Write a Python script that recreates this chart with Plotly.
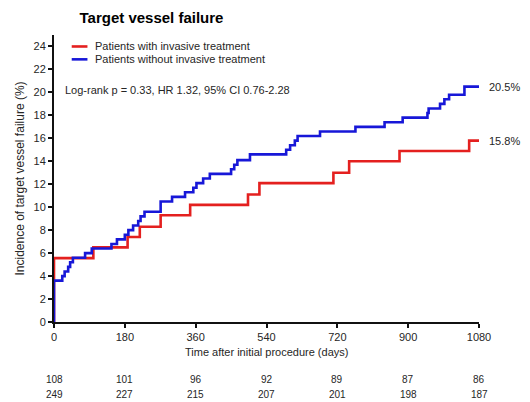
import plotly.graph_objects as go

# Kaplan-Meier style cumulative incidence (%)
red_days = [0, 0, 100, 187, 218, 271, 346, 493, 522, 710, 750, 878, 1055, 1080]
red_vals = [0, 5.56, 6.5, 7.4, 8.3, 9.3, 10.2, 11.1, 12.1, 13.0, 14.0, 14.9, 15.8, 15.8]

blue_days = [0, 0, 21, 27, 36, 41, 48, 79, 96, 146, 160, 180, 189, 201, 214, 220, 230,
             271, 300, 333, 354, 362, 379, 396, 450, 458, 466, 498, 590, 600, 612, 619,
             676, 766, 840, 886, 949, 952, 981, 992, 1004, 1043, 1080]
blue_vals = [0, 3.6, 4.0, 4.4, 4.8, 5.2, 5.6, 6.0, 6.4, 6.8, 7.2, 7.6, 8.0, 8.4, 8.8, 9.2, 9.6,
             10.5, 10.9, 11.3, 11.7, 12.1, 12.5, 12.9, 13.3, 13.7, 14.1, 14.6, 15.0, 15.4, 15.8, 16.2,
             16.6, 17.0, 17.4, 17.8, 18.2, 18.6, 19.0, 19.4, 19.8, 20.5, 20.5]

series_names = ["Patients with invasive treatment", "Patients without invasive treatment"]
end_labels = ["15.8%", "20.5%"]

x_ticks = [0, 180, 360, 540, 720, 900, 1080]
y_ticks = [0, 2, 4, 6, 8, 10, 12, 14, 16, 18, 20, 22, 24]

risk_red = [108, 101, 96, 92, 89, 87, 86]
risk_blue = [249, 227, 215, 207, 201, 198, 187]

RED = "#e4201f"
BLUE = "#1717d8"
FONT = "Liberation Sans, Arial, sans-serif"
TXT = "#262626"

fig = go.Figure()
fig.add_trace(go.Scatter(x=red_days, y=red_vals, mode="lines", line=dict(color=RED, width=2.6, shape="hv"),
                         name=series_names[0], showlegend=False))
fig.add_trace(go.Scatter(x=blue_days, y=blue_vals, mode="lines", line=dict(color=BLUE, width=2.6, shape="hv"),
                         name=series_names[1], showlegend=False))

ann = []
# end labels
ann.append(dict(x=1080, y=red_vals[-1], xref="x", yref="y", text=end_labels[0], showarrow=False,
                xanchor="left", xshift=8, font=dict(size=11, color=TXT, family=FONT)))
ann.append(dict(x=1080, y=blue_vals[-1], xref="x", yref="y", text=end_labels[1], showarrow=False,
                xanchor="left", xshift=8, font=dict(size=11, color=TXT, family=FONT)))
# log-rank text
ann.append(dict(x=22, y=20.2, xref="x", yref="y", text="Log-rank p = 0.33, HR 1.32, 95% CI 0.76-2.28",
                showarrow=False, xanchor="left", font=dict(size=11, color=TXT, family=FONT)))
# custom legend
shapes = []
for i, (nm, col) in enumerate(zip(series_names, [RED, BLUE])):
    yy = 24.0 - i * 1.12
    shapes.append(dict(type="line", xref="x", yref="y", x0=45, x1=85, y0=yy, y1=yy,
                       line=dict(color=col, width=2.6)))
    ann.append(dict(x=98, y=yy, xref="x", yref="y", text=nm, showarrow=False, xanchor="left",
                    font=dict(size=11, color=TXT, family=FONT)))
# number at risk
for xv, a, b in zip(x_ticks, risk_red, risk_blue):
    ann.append(dict(x=xv, y=-0.202, xref="x", yref="paper", yanchor="middle", text=str(a), showarrow=False,
                    font=dict(size=10, color=TXT, family=FONT)))
    ann.append(dict(x=xv, y=-0.251, xref="x", yref="paper", yanchor="middle", text=str(b), showarrow=False,
                    font=dict(size=10, color=TXT, family=FONT)))
# x axis title
ann.append(dict(x=540, y=-0.105, xref="x", yref="paper", yanchor="middle",
                text="Time after initial procedure (days)",
                showarrow=False, font=dict(size=11, color=TXT, family=FONT)))

fig.update_layout(
    width=530, height=402,
    margin=dict(l=54, r=51, t=35, b=80, autoexpand=False),
    paper_bgcolor="white", plot_bgcolor="white",
    title=dict(text="<b>Target vessel failure</b>", x=0.15, xanchor="left", y=0.957, yanchor="middle",
               font=dict(size=15, color="black", family=FONT)),
    annotations=ann, shapes=shapes,
    xaxis=dict(range=[0, 1080], tickvals=x_ticks, showline=True, linecolor="#111", linewidth=2,
               ticks="outside", ticklen=4, tickwidth=1.5, tickcolor="#111", showgrid=False, zeroline=False,
               automargin=False, tickfont=dict(size=11, color=TXT, family=FONT)),
    yaxis=dict(range=[0, 25], tickvals=y_ticks, showline=True, linecolor="#111", linewidth=2,
               ticks="outside", ticklen=4, tickwidth=1.5, tickcolor="#111", showgrid=False, zeroline=False,
               automargin=False, tickfont=dict(size=11, color=TXT, family=FONT),
               title=dict(text="Incidence of target vessel failure (%)", standoff=6,
                          font=dict(size=12, color=TXT, family=FONT))),
)

fig.write_html("out.html", config={"displayModeBar": False},
               post_script="document.body.style.margin='0px';")
